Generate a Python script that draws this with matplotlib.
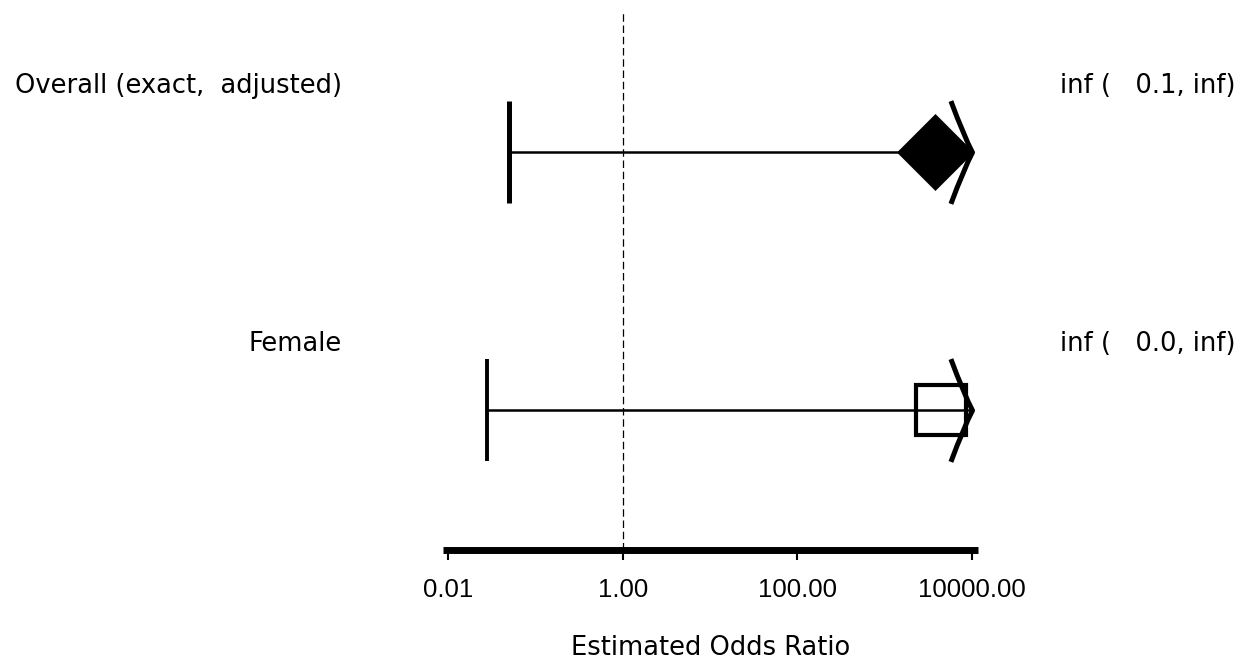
import numpy as np
import matplotlib
matplotlib.use("Agg")
import matplotlib.pyplot as plt
from matplotlib.path import Path
from matplotlib.markers import MarkerStyle
import matplotlib.transforms as mtransforms

# forest plot data (upper limits are infinite -> drawn as arrows at the axis end)
labels = ["Overall (exact,  adjusted)", "Female"]
estimates = [3800.0, 4400.0]
lower = [0.05, 0.028]
upper = [10000.0, 10000.0]
ci_text = ["inf (   0.1, inf)", "inf (   0.0, inf)"]
row_y = [1, 0]
tick_vals = [0.01, 1, 100, 10000]
tick_labels = ["0.01", "1.00", "100.00", "10000.00"]

plt.rcParams["font.family"] = ["Liberation Sans", "DejaVu Sans"]
fs = 18.5
wide = ["DejaVu Sans"]

fig = plt.figure(figsize=(12.49, 6.66), dpi=100)
W, H = 1249, 666
ax = fig.add_axes([443 / W, (H - 550) / H, (978 - 443) / W, 540 / H])
ax.patch.set_alpha(0)

ax.set_xscale("log")
ax.set_xlim(10 ** -2.057, 10 ** 4.069)
ax.set_ylim(-0.543, 1.55)

# reference line at OR = 1
ax.axvline(1, color="black", lw=0.9, ls=(0, (6, 3)), zorder=1)

# arrow head for open upper limit
arrow_path = Path([(-0.42, 1), (-0.16, 0.3), (0, 0), (-0.16, -0.3), (-0.42, -1)],
                  [Path.MOVETO, Path.CURVE3, Path.CURVE3, Path.CURVE3, Path.CURVE3])
arrow = MarkerStyle(arrow_path, joinstyle="miter")

est_markers = ["D", "s"]
cap_widths = [3.6, 2.8]
for i in range(len(labels)):
    y = row_y[i]
    ax.plot([lower[i], upper[i]], [y, y], color="black", lw=1.8, zorder=2)
    ax.plot([lower[i]], [y], marker="|", ms=74, mew=cap_widths[i], color="black", zorder=3)
    ax.plot([upper[i]], [y], marker=arrow, ms=74, mew=3.6, mfc="none", mec="black", zorder=4)
    if est_markers[i] == "D":
        ax.plot([estimates[i]], [y], marker="D", ms=39, mfc="black", mec="black", mew=0.5, zorder=5)
    else:
        ax.plot([estimates[i]], [y], marker="s", ms=36, mfc="none", mec="black", mew=3, zorder=5)

trans = mtransforms.blended_transform_factory(ax.transAxes, ax.transData)
for i in range(len(labels)):
    ax.text(-0.189, row_y[i] + 0.256, labels[i], transform=trans, ha="right", va="center",
            fontsize=fs, family=wide)
    ax.text(1.153, row_y[i] + 0.256, ci_text[i], transform=trans, ha="left", va="center",
            fontsize=fs, family=wide)

for s in ["top", "left", "right"]:
    ax.spines[s].set_visible(False)
ax.spines["bottom"].set_linewidth(5)
ax.spines["bottom"].set_capstyle("butt")
ax.set_yticks([])
ax.set_xticks(tick_vals)
ax.set_xticklabels(tick_labels)
ax.xaxis.set_minor_locator(matplotlib.ticker.NullLocator())
ax.tick_params(axis="x", direction="out", length=7, width=1.5, pad=13, labelsize=fs)
ax.set_xlabel("Estimated Odds Ratio", fontsize=fs, labelpad=24, family=wide)

fig.savefig("out.png", dpi=100)
